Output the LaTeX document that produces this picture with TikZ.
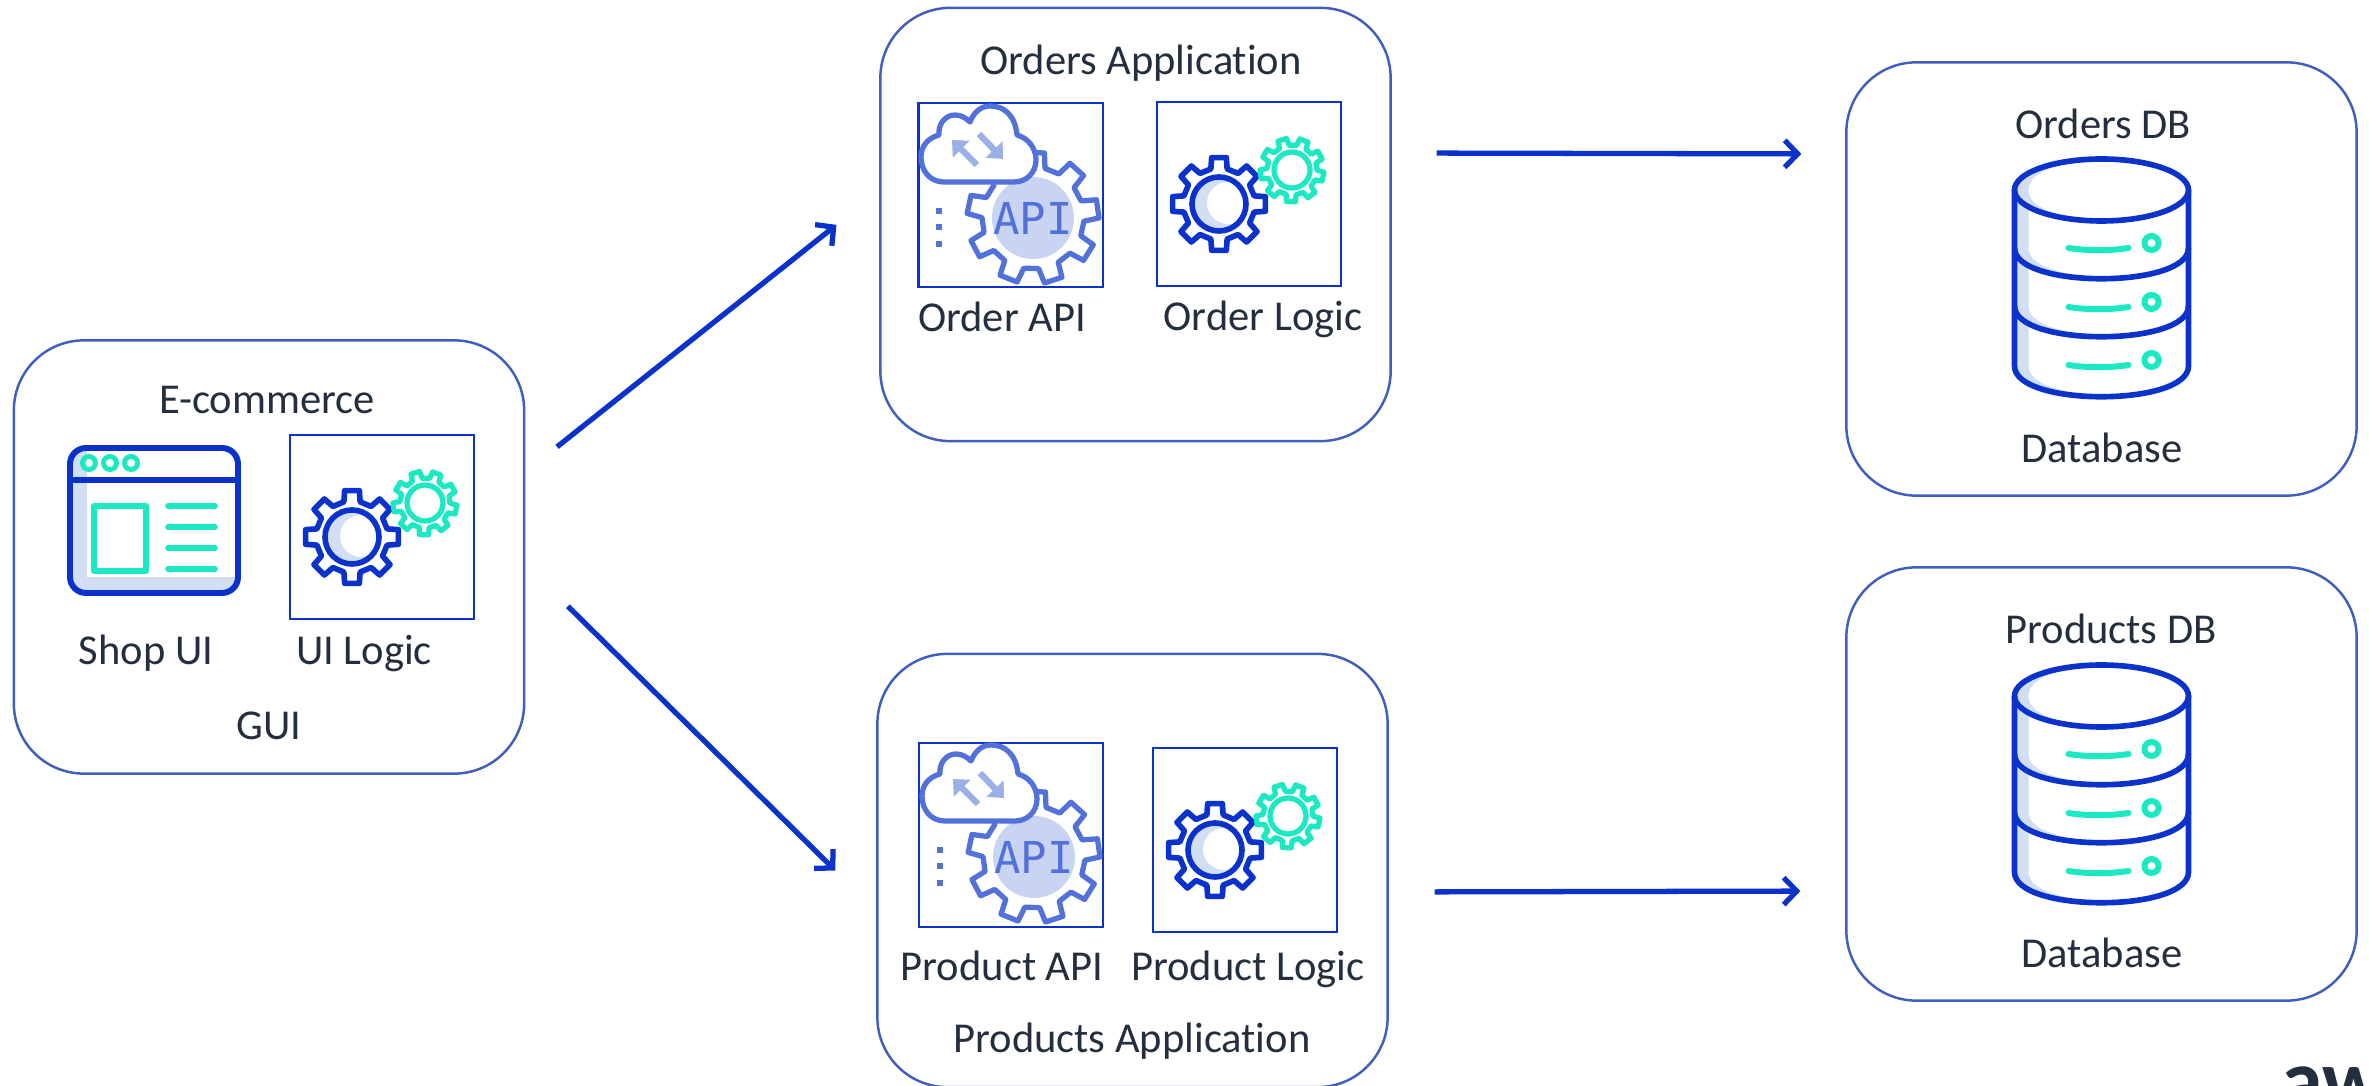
\documentclass[tikz,border=0pt]{standalone}
\usepackage{fontspec}
\setmainfont{Carlito}[Ligatures=NoCommon]
\newfontfamily\apifont{DejaVu Sans Mono}
\usetikzlibrary{arrows.meta, calc}
\definecolor{inkdark}{HTML}{232F3E}
\definecolor{boxblue}{HTML}{3F5FBE}
\definecolor{deepblue}{HTML}{0B33CB}
\definecolor{apiblue}{HTML}{5272D9}
\definecolor{apidisc}{HTML}{C9D4F2}
\definecolor{apiarrow}{HTML}{9BB0E9}
\definecolor{teal}{HTML}{1CE8C2}
\definecolor{palefill}{HTML}{D2DFF3}
\tikzset{
  appbox/.style={draw=boxblue, line width=0.7pt, rounded corners=0.7cm, minimum width=5.1cm, minimum height=4.33cm, outer sep=0pt},
  iconbox/.style={draw=deepblue, line width=0.6pt, minimum width=1.84cm, minimum height=1.84cm, outer sep=0pt},
  label/.style={text=inkdark, font=\fontsize{12.1}{15}\selectfont, inner sep=0pt, anchor=base},
  flow/.style={draw=deepblue, line width=1.5pt, -{Straight Barb[length=0.13cm, width=0.27cm]}},
  darkline/.style={draw=deepblue, line width=1.6pt, line join=round},
  tealline/.style={draw=teal, line width=1.5pt, line join=round, line cap=round},
  apiline/.style={draw=apiblue, line width=1.5pt, line join=round},
}
% #1 cx, #2 cy, #3 tip radius, #4 root radius, #5 teeth, #6 phase, #7 style
\newcommand{\gearshape}[7]{
  \pgfmathsetmacro{\gstep}{360/#5}
  \pgfmathsetmacro{\gmax}{#5-1}
  \begin{scope}[shift={(#1,#2)}]
    \draw[#7] (#6-0.29*\gstep:#4) \foreach \i in {0,...,\gmax}{
      -- (\i*\gstep+#6-0.29*\gstep:#4) -- (\i*\gstep+#6-0.2*\gstep:#3)
      -- (\i*\gstep+#6+0.2*\gstep:#3) -- (\i*\gstep+#6+0.29*\gstep:#4)} -- cycle;
  \end{scope}
}
% two gears, box corner at #1, #2
\newcommand{\logicicon}[2]{
  \begin{scope}[shift={(#1,#2)}]
    \gearshape{62}{102}{47}{36}{8}{0}{darkline}
    \fill[palefill] (62,102) circle (27);
    \fill[white] (71,101) circle (21);
    \draw[darkline] (62,102) circle (27);
    \gearshape{135}{68}{32}{25}{9}{12}{tealline}
    \draw[tealline] (135,68) circle (18);
  \end{scope}
}
% gear with cloud, box corner at #1, #2
\newcommand{\apiicon}[3]{
  \begin{scope}[shift={(#1,#2)}]
    \gearshape{115}{115}{66}{51}{9}{-8}{apiline}
    \fill[apidisc] (115,115) circle (41);
    \node[text=apiblue, font=\apifont\fontsize{12.5}{14}\selectfont, inner sep=0pt] (#3) at (115,115) {API};
    \draw[apiline, fill=white] (26,79) .. controls (12,79) and (3,68) .. (3,54)
      .. controls (3,43) and (10,35) .. (21,32)
      .. controls (20,20) and (28,12) .. (37,12)
      .. controls (43,12) and (48,15) .. (52,19)
      .. controls (56,9) and (63,3) .. (72,3)
      .. controls (86,3) and (97,12) .. (99,32)
      .. controls (110,35) and (118,45) .. (118,57)
      .. controls (118,70) and (108,79) .. (96,79) -- cycle;
    \draw[apiarrow, line width=1.8pt, -{Triangle[length=0.13cm, width=0.23cm]}] (59,62) -- (34,37);
    \draw[apiarrow, line width=1.8pt, -{Triangle[length=0.13cm, width=0.23cm]}] (61,31) -- (85,56);
    \foreach \y in {108,124,141}
      \fill[apiblue] (18,\y-3) rectangle (24,\y+3);
  \end{scope}
}
% cylinder, top ellipse centre at #1, #2
\newcommand{\dbicon}[2]{
  \begin{scope}[shift={(#1,#2)}]
    \foreach \y in {176,116,58}{
      \fill[palefill] (-87,0) -- (-87,\y) .. controls (-87,\y+41) and (87,\y+41) .. (87,\y) -- (87,0) -- cycle;
      \fill[white] (-73,0) -- (-73,\y) .. controls (-73,\y+38) and (87,\y+41) .. (87,\y) -- (87,0) -- cycle;
    }
    \fill[palefill] (0,0) ellipse (87 and 31);
    \fill[white] (-73,0) .. controls (-73,-40) and (87,-41) .. (87,0) .. controls (87,41) and (-73,40) .. cycle;
    \draw[darkline] (0,0) ellipse (87 and 31);
    \draw[darkline] (-87,0) -- (-87,176) .. controls (-87,217) and (87,217) .. (87,176) -- (87,0);
    \foreach \y in {58,116}
      \draw[darkline] (-87,\y) .. controls (-87,\y+41) and (87,\y+41) .. (87,\y);
    \foreach \y in {58,117,175}{
      \draw[tealline, line width=1.7pt] (-33,\y) .. controls (-13,\y+3) and (7,\y+3) .. (27,\y);
      \draw[teal, line width=1.7pt] (50,\y-5) circle (7);
    }
  \end{scope}
}

\begin{document}
\begin{tikzpicture}[x=0.01cm, y=-0.01cm]
\useasboundingbox (0,0) rectangle (2369,1086);

\node[appbox] (ecommerce) at (269,557) {};
\node[appbox] (orders) at (1135.5,224.5) {};
\node[appbox] (products) at (1132.5,870.5) {};
\node[appbox] (ordersdb) at (2101.5,279) {};
\node[appbox] (productsdb) at (2101.5,784) {};

\node[iconbox] (uilogic) at (382,527) {};
\node[iconbox] (orderapi) at (1010.5,195) {};
\node[iconbox] (orderlogic) at (1249,194) {};
\node[iconbox] (productapi) at (1011,835) {};
\node[iconbox] (productlogic) at (1245,840) {};

\node[label] (ecommercetitle) at (267,414) {E-commerce};
\node[label] (shopuilabel) at (146,665) {Shop UI};
\node[label] (uilogiclabel) at (364,665) {UI Logic};
\node[label] (guilabel) at (269,740) {GUI};
\node[label] (orderstitle) at (1141,75) {Orders Application};
\node[label] (orderapilabel) at (1002,332) {Order API};
\node[label] (orderlogiclabel) at (1263,331) {Order Logic};
\node[label] (productapilabel) at (1002,981) {Product API};
\node[label] (productlogiclabel) at (1248,981) {Product Logic};
\node[label] (productstitle) at (1132,1053) {Products Application};
\node[label] (ordersdbtitle) at (2103,139) {Orders DB};
\node[label] (ordersdblabel) at (2102,463) {Database};
\node[label] (productsdbtitle) at (2111,644) {Products DB};
\node[label] (productsdblabel) at (2102,968) {Database};

% window icon
\fill[palefill, rounded corners=0.16cm] (70,448) rectangle (238,593);
\fill[white] (87,480) rectangle (236,577);
\fill[white] (87,449) rectangle (236,480);
\draw[darkline, line width=1.7pt, rounded corners=0.16cm] (70,448) rectangle (238,593);
\draw[darkline, line width=1.7pt] (70,480) -- (238,480);
\foreach \x in {89,110,131}
  \draw[teal, line width=1.4pt] (\x,463) circle (6.5);
\draw[tealline, line width=1.5pt] (94,506) rectangle (146,571);
\foreach \y in {506,527,548,569}
  \draw[tealline, line width=1.6pt] (168,\y) -- (215,\y);

\logicicon{290}{435}
\logicicon{1157}{102}
\logicicon{1153}{748}
\apiicon{918}{103}{orderapitext}
\apiicon{919}{742}{productapitext}
\dbicon{2101.5}{190}
\dbicon{2101.5}{696}

\draw[flow, shorten <=0.42cm, shorten >=0.56cm] ($(ecommerce.east)+(0,-84)$) -- ($(orders.west)+(0,-34.5)$);
\draw[flow, shorten <=0.615cm, shorten >=0.59cm] ($(ecommerce.east)+(0,6)$) -- ($(products.west)+(0,41.5)$);
\draw[flow, shorten <=0.46cm, shorten >=0.45cm] ($(orders.east)+(0,-71.5)$) -- ($(ordersdb.west)+(0,-125)$);
\draw[flow, shorten <=0.47cm, shorten >=0.46cm] ($(products.east)+(0,21.5)$) -- ($(productsdb.west)+(0,107)$);

\node[text=inkdark, font=\fontsize{24}{28}\selectfont\bfseries, anchor=base west, inner sep=0pt] (awslogo) at (2281,1109) {aws};
\end{tikzpicture}
\end{document}
